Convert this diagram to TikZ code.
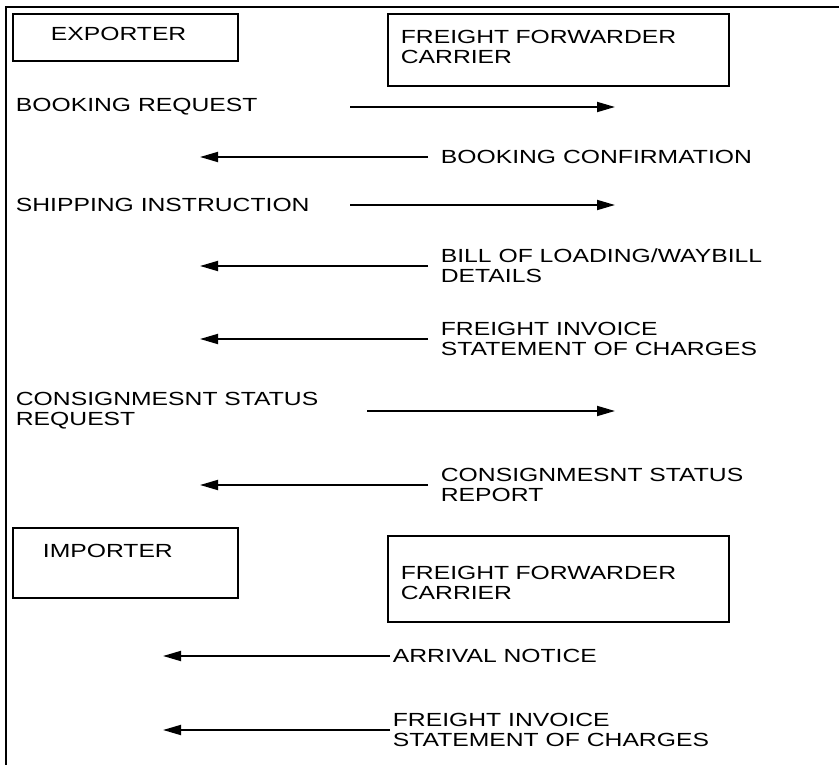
\documentclass[tikz,border=0pt]{standalone}
\usepackage{fontspec}
\setmainfont{Liberation Sans}[FakeStretch=1.30]
\usepackage{tikz}
\usetikzlibrary{arrows.meta}

\begin{document}
\begin{tikzpicture}[x=1pt, y=-1pt, line width=1.8pt,
    every node/.style = {font=\fontsize{19}{20}\selectfont, align=left},
    party/.style = {draw, anchor=north west, inner ysep=0pt},
    msg/.style = {anchor=west, inner ysep=0pt, inner xsep=0pt},
    back/.style = {inner xsep=12pt},
    flow/.style = {-{Triangle[length=18pt, width=10pt]}}]
  \useasboundingbox (0,0) rectangle (839,765);
  \draw (6,765) -- (6,7) -- (839,7);

  % where the arrows start and stop
  \coordinate (expStart) at (350,0);
  \coordinate (expSide) at (200,0);
  \coordinate (carSide) at (615,0);
  \coordinate (impSide) at (163,0);

  \node[party, minimum height=47pt, text width=149pt, inner xsep=38pt, text depth=7pt] (exporter) at (12,13) {EXPORTER};
  \node[party, minimum height=72pt, text width=315pt, inner xsep=13pt, text depth=26pt] (carrier) at (387,13) {FREIGHT FORWARDER\\CARRIER};

  \node[msg] (bookreq) at (15,107) {BOOKING REQUEST};
  \draw[flow] (bookreq -| expStart) -- (bookreq -| carSide);
  \node[msg, back] (bookconf) at (428,157) {BOOKING CONFIRMATION};
  \draw[flow] (bookconf.west) -- (bookconf.west -| expSide);
  \node[msg] (shipinst) at (15,205) {SHIPPING INSTRUCTION};
  \draw[flow] (shipinst -| expStart) -- (shipinst -| carSide);
  \node[msg, back] (lading) at (428,266) {BILL OF LOADING/WAYBILL\\DETAILS};
  \draw[flow] (lading.west) -- (lading.west -| expSide);
  \node[msg, back] (invoice) at (428,339) {FREIGHT INVOICE\\STATEMENT OF CHARGES};
  \draw[flow] (invoice.west) -- (invoice.west -| expSide);
  \node[msg] (statreq) at (15,411) {CONSIGNMESNT STATUS\\REQUEST};
  \draw[flow] ([xshift=17pt]statreq -| expStart) -- (statreq -| carSide);
  \node[msg, back] (statrep) at (428,485) {CONSIGNMESNT STATUS\\REPORT};
  \draw[flow] (statrep.west) -- (statrep.west -| expSide);

  \node[party, minimum height=70pt, text width=165pt, inner xsep=30pt, text depth=24pt] (importer) at (12,527) {IMPORTER};
  \node[party, minimum height=86pt, text width=315pt, inner xsep=13pt, text depth=12pt] (carrier2) at (387,535) {FREIGHT FORWARDER\\CARRIER};

  \node[msg, inner xsep=2pt] (arrival) at (390,656) {ARRIVAL NOTICE};
  \draw[flow] (arrival.west) -- (arrival.west -| impSide);
  \node[msg, inner xsep=2pt] (invoice2) at (390,730) {FREIGHT INVOICE\\STATEMENT OF CHARGES};
  \draw[flow] (invoice2.west) -- (invoice2.west -| impSide);
\end{tikzpicture}
\end{document}
